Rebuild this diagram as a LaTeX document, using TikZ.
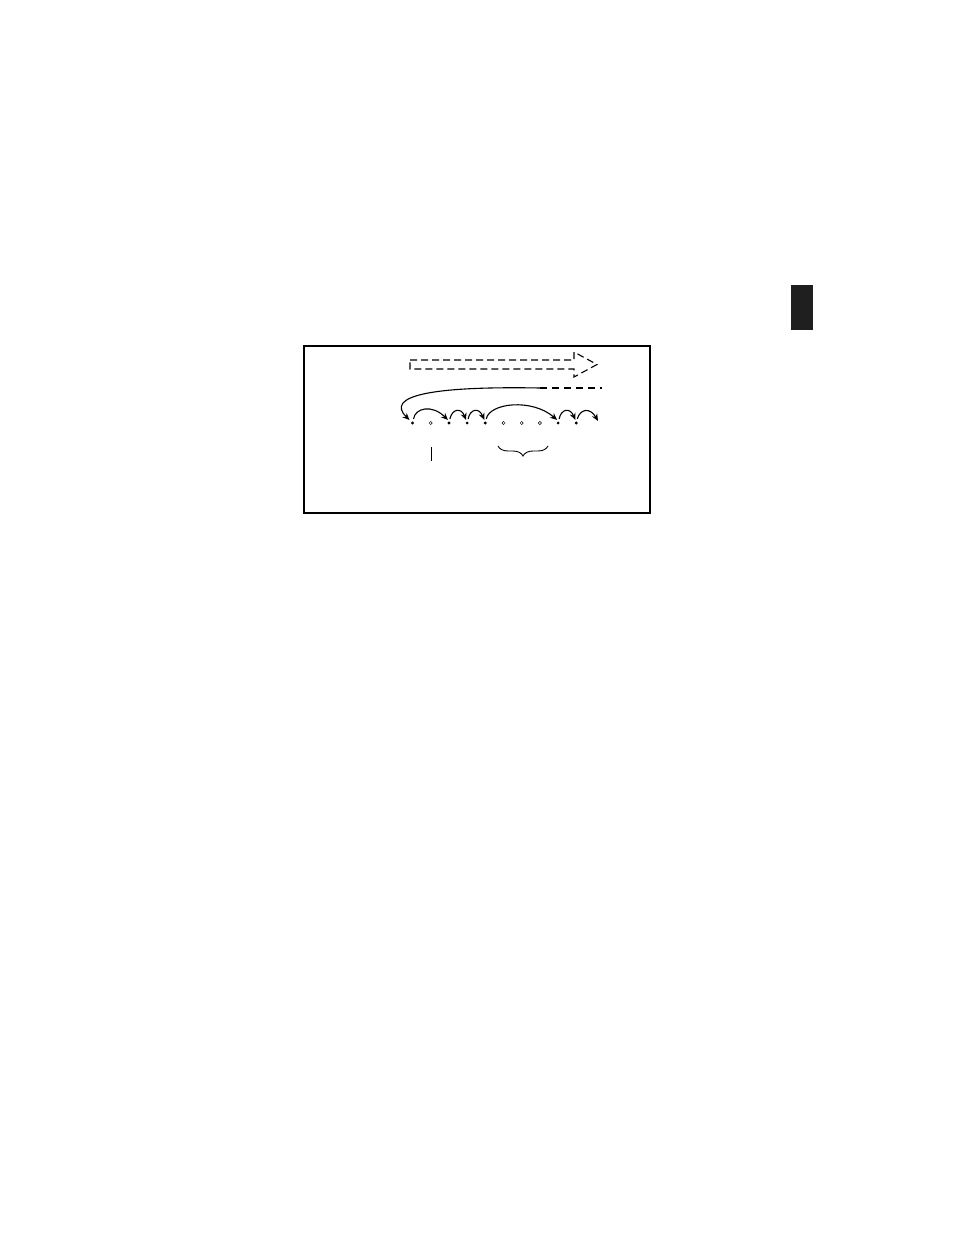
\documentclass[tikz,border=0pt]{standalone}
\usepackage{amsmath}
\usepackage{tikz}
\usetikzlibrary{calc,arrows.meta,decorations.pathreplacing}
\tikzset{x=0.5pt, y=-0.5pt,
  frame box/.style={draw=black, line width=1pt},
  page tab/.style={fill=black!88},
  flow arrow/.style={draw=black, dashed, dash pattern=on 3.5pt off 2pt, line width=0.55pt},
  full dot/.style={circle, fill=black, inner sep=0pt, minimum size=1.6pt},
  empty dot/.style={circle, draw=black, line width=0.25pt, inner sep=0pt, minimum size=1.6pt},
  hop/.style={draw=black, line width=0.55pt, -{Stealth[length=3.5pt,width=3pt]}},
  mark line/.style={draw=black, line width=0.45pt}
}
\begin{document}
\begin{tikzpicture}
\useasboundingbox (0,0) rectangle (954,1235);
\fill[page tab] (791,285) rectangle (812.5,330);
\draw[frame box] (304,346) rectangle (650,513);
% dashed block arrow
\draw[flow arrow] (410,360) -- (574,360) -- (574,352) -- (597,364.5)
  -- (574,377) -- (574,369) -- (410,369) -- cycle;
% row of points
\foreach \i/\k in {1/full,2/empty,3/full,4/full,5/full,6/empty,7/empty,8/empty,9/full,10/full}
  \node[\k\space dot] (p\i) at ({412.5+18.2*(\i-1)},423) {};
\coordinate (tail) at (540,388);
\coordinate (far) at (602,388);
\coordinate (exit) at (598,421);
\draw[flow arrow, dash pattern=on 3.5pt off 2.5pt] (tail) -- (far);
\draw[hop] (tail) .. controls (430,386) and (385,396) .. ($(p1)+(-3,-3)$);
% hops between points
\draw[hop] ($(p1)+(1,-4)$) .. controls (415,408) and (432,404) .. ($(p3)+(-1,-3)$);
\draw[hop] ($(p3)+(1,-4)$) .. controls (452,409) and (461,407) .. ($(p4)+(-1,-3)$);
\draw[hop] ($(p4)+(1,-4)$) .. controls (470,409) and (479,407) .. ($(p5)+(-1,-3)$);
\draw[hop] ($(p5)+(1,-4)$) .. controls (489,403) and (532,398) .. ($(p9)+(-1,-3)$);
\draw[hop] ($(p9)+(1,-4)$) .. controls (561,409) and (570,407) .. ($(p10)+(-1,-3)$);
\draw[hop] ($(p10)+(1,-4)$) .. controls (580,409) and (590,407) .. (exit);
% marks under the row
\draw[mark line] (431.5,447) -- (431.5,461);
\draw[mark line, decorate, decoration={brace, mirror, amplitude=5pt}] (498,446) -- (548,446);
\end{tikzpicture}
\end{document}
